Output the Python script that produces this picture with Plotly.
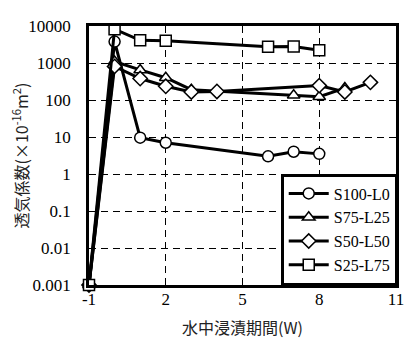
import plotly.graph_objects as go

weeks_s100 = [-1, 0, 1, 2, 6, 7, 8]
vals_s100 = [0.001, 3800, 9.6, 7, 3, 4, 3.5]

weeks_s75 = [-1, 0, 1, 2, 3, 7, 8, 9]
vals_s75 = [0.001, 1100, 650, 400, 190, 135, 123, 210]

weeks_s50 = [-1, 0, 1, 2, 3, 4, 8, 9, 10]
vals_s50 = [0.001, 810, 380, 235, 165, 170, 245, 165, 300]

weeks_s25 = [-1, 0, 1, 2, 6, 7, 8]
vals_s25 = [0.001, 8200, 4100, 4000, 2750, 2800, 2200]

names = ["S100-L0", "S75-L25", "S50-L50", "S25-L75"]
symbols = ["circle", "triangle-up", "diamond", "square"]
x_ticks = [-1, 2, 5, 8, 11]
x_tick_labels = ["-1", "2", "5", "8", "11"]
y_ticks = [0.001, 0.01, 0.1, 1, 10, 100, 1000, 10000]
y_tick_labels = ["0.001", "0.01", "0.1", "1", "10", "100", "1000", "10000"]
x_title = "水中浸漬期間(W)"
y_title = "透気係数(×10<sup>-16</sup>m<sup>2</sup>)"

series = [(weeks_s100, vals_s100), (weeks_s75, vals_s75), (weeks_s50, vals_s50), (weeks_s25, vals_s25)]

fig = go.Figure()
for (xs, ys), name, sym in zip(series, names, symbols):
    fig.add_trace(go.Scatter(
        x=xs, y=ys, name=name, mode="lines+markers", cliponaxis=False,
        line=dict(color="black", width=3),
        marker=dict(symbol=sym, size=11, color="white", line=dict(color="black", width=1.5)),
    ))

serif = "Liberation Serif, Times New Roman, serif"
cjk = "Noto Sans CJK JP"
# page body has an 8px margin, so the figure is sized/offset to compensate
fig.update_layout(
    width=405, height=330,
    margin=dict(l=78, r=13, t=9, b=53),
    paper_bgcolor="white", plot_bgcolor="white",
    font=dict(family=serif, size=17, color="black"),
    showlegend=True,
    legend=dict(
        x=1.004, y=0, xanchor="right", yanchor="bottom",
        bgcolor="white", bordercolor="black", borderwidth=2.5,
        font=dict(family=serif, size=16, color="black"),
        tracegroupgap=0, itemwidth=40,
    ),
    xaxis=dict(
        range=[-1, 11], tickvals=x_ticks, ticktext=x_tick_labels, ticks="", showline=True, mirror=True,
        linecolor="black", linewidth=2.5,
        showgrid=True, gridcolor="black", griddash="7px,5px", gridwidth=1,
        zeroline=False, ticklabelstandoff=-3, ticklabeloverflow="allow",
        tickfont=dict(family=serif, size=17),
    ),
    yaxis=dict(
        type="log", range=[-3, 4], tickvals=y_ticks, ticktext=y_tick_labels, ticks="",
        showline=True, mirror=True, linecolor="black", linewidth=2.5,
        showgrid=True, gridcolor="black", griddash="7px,5px", gridwidth=1,
        zeroline=False, ticklabelstandoff=12, ticklabeloverflow="allow",
        title=dict(text=y_title, font=dict(family=cjk, size=16, color="#222"), standoff=0),
        tickfont=dict(family=serif, size=17),
    ),
    annotations=[dict(
        text=x_title, xref="paper", yref="paper", x=0.5, y=0,
        xanchor="center", yanchor="middle", yshift=-42, showarrow=False,
        font=dict(family=cjk, size=16, color="#222"),
    )],
)

fig.write_html("out.html")
